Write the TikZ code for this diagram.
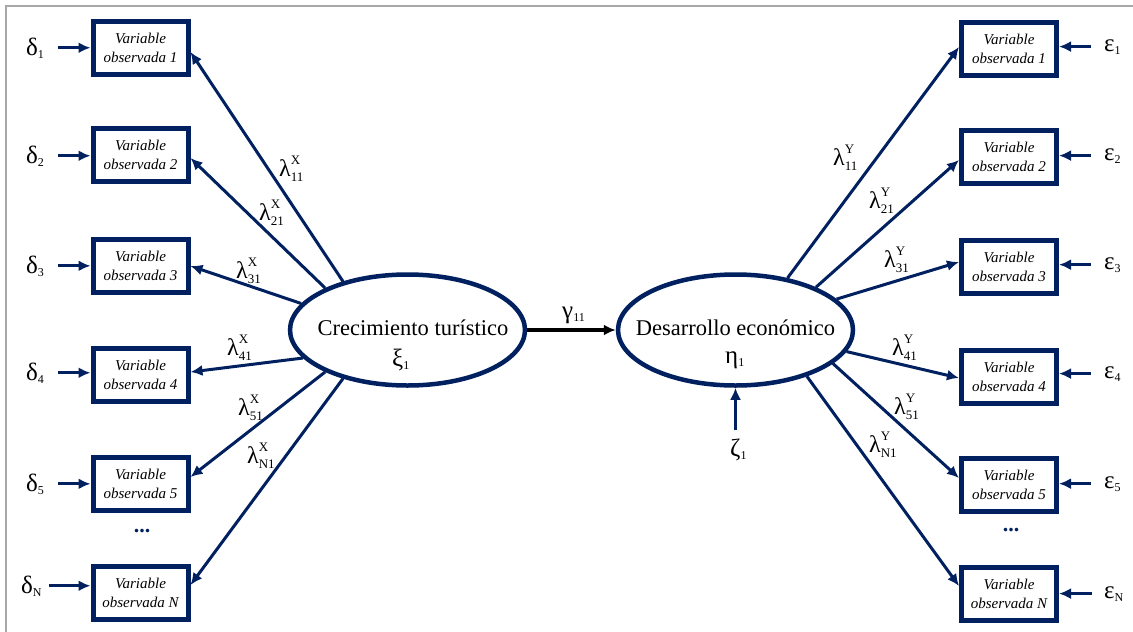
\documentclass[tikz,border=0pt]{standalone}
\usepackage{fontspec}
\setmainfont{Liberation Serif}
\usetikzlibrary{arrows.meta,shapes.geometric}
\definecolor{navy}{RGB}{0,32,96}
\definecolor{framegray}{RGB}{168,168,168}
% Greek symbol with a lowered index
\newcommand\gsub[2]{#1\raisebox{-3pt}{\fontsize{12}{12}\selectfont #2}}
% loading: lambda with stacked superscript and subscript
\newcommand\lamb[2]{λ\makebox[0pt][l]{\raisebox{12pt}{\fontsize{13}{13}\selectfont #1}}\raisebox{-5pt}{\fontsize{13}{13}\selectfont #2}}
\begin{document}
\begin{tikzpicture}[x=1pt,y=-1pt,
  obsbox/.style={draw=navy, line width=5pt, fill=white, minimum width=95pt,
    minimum height=53pt, inner sep=0pt, align=center,
    font=\fontsize{15}{19}\selectfont\itshape},
  latent/.style={ellipse, draw=navy, line width=4.5pt, minimum width=235pt,
    minimum height=111pt, inner sep=0pt},
  link/.style={draw=navy, line width=3pt, -{Latex[length=12pt,width=11pt]}},
  path/.style={draw=black, line width=4pt, -{Latex[length=12pt,width=11pt]}},
  latlab/.style={font=\fontsize{22.5}{22.5}\selectfont, inner sep=0pt, anchor=base},
  greek/.style={font=\fontsize{25}{25}\selectfont, inner sep=0pt, anchor=base west},
  lamlab/.style={font=\fontsize{24}{24}\selectfont, inner sep=0pt, anchor=base west},
  dots/.style={text=navy, font=\fontsize{22}{22}\selectfont\bfseries, inner sep=0pt},
]
\useasboundingbox (0,0) rectangle (1133,632);
% page frame
\draw[framegray, line width=1.5pt] (6,632) -- (6,6) -- (1133,6);

% latent variables
\node[latent] (xi) at (407.5,330) {};
\node[latent] (eta) at (735.5,330) {};
\node[latlab] (xit) at (413,335) {Crecimiento turístico};
\node[greek] (xis) at (392,366) {\gsub{ξ}{1}};
\node[latlab] (etat) at (735.5,335) {Desarrollo económico};
\node[greek] (etas) at (725,363) {\gsub{η}{1}};

% structural path
\draw[path] (xi.east) -- (eta.west);
\node[greek] (gam) at (562,318) {\gsub{γ}{11}};

% disturbance
\node[greek] (zeta) at (730,456) {\gsub{ζ}{1}};
\draw[link] ([yshift=8pt]zeta.north -| eta.south) -- (eta.south);

% indicators of the exogenous construct
\foreach \i/\y/\t in {1/48/1,2/155/2,3/266/3,4/375/4,5/484/5,6/593/N}
  \node[obsbox] (lb\i) at (140.5,\y) {Variable\\observada \t};
% indicators of the endogenous construct
\foreach \i/\y/\t in {1/49/1,2/157/2,3/267/3,4/377/4,5/485/5,6/594/N}
  \node[obsbox] (rb\i) at (1009,\y) {Variable\\observada \t};

\node[dots] (ldots) at (142,531) {...};
\node[dots] (rdots) at (1011,530) {...};

% measurement errors, left
\foreach \i/\x/\y/\t/\g in {1/26/55/1/14,2/26/163/2/14,3/26/273/3/14,4/26/380/4/14,5/26/491/5/14,6/21/593/N/7}{
  \node[greek] (d\i) at (\x,\y) {\gsub{δ}{\t}};
  \draw[link] ([xshift=\g pt]d\i.east) -- (d\i.east -| lb\i.west);
}
% measurement errors, right
\foreach \i/\y/\t/\g in {1/51/1/13,2/160/2/13,3/269/3/13,4/378/4/13,5/488/5/13,6/598/N/12}{
  \node[greek] (e\i) at (1104,\y) {\gsub{ε}{\t}};
  \draw[link] ([xshift=-\g pt]e\i.west) -- (e\i.west -| rb\i.east);
}

% loadings, left
\draw[link] (xi.143) -- ([yshift=-4pt]lb1.east);
\draw[link] (xi.153) -- ([yshift=-3pt]lb2.east);
\draw[link] (xi.166) -- (lb3.east);
\draw[link] (xi.195) -- ([yshift=3pt]lb4.east);
\draw[link] (xi.207) -- ([yshift=7pt]lb5.east);
\draw[link] (xi.217) -- ([yshift=8pt]lb6.east);
\node[lamlab] (lx1) at (279,176) {\lamb{X}{11}};
\node[lamlab] (lx2) at (259,220) {\lamb{X}{21}};
\node[lamlab] (lx3) at (236,278) {\lamb{X}{31}};
\node[lamlab] (lx4) at (227,355) {\lamb{X}{41}};
\node[lamlab] (lx5) at (238,415) {\lamb{X}{51}};
\node[lamlab] (lx6) at (247,463) {\lamb{X}{N1}};

% loadings, right
\draw[link] (eta.45) -- ([yshift=2pt]rb1.west);
\draw[link] (eta.28) -- ([yshift=-3pt]rb2.west);
\draw[link] (eta.17) -- ([yshift=5pt]rb3.west);
\draw[link] (eta.-11) -- ([yshift=-1pt]rb4.west);
\draw[link] (eta.-19) -- ([yshift=7pt]rb5.west);
\draw[link] (eta.-33) -- ([yshift=8pt]rb6.west);
\node[lamlab] (ly1) at (833,165) {\lamb{Y}{11}};
\node[lamlab] (ly2) at (869,208) {\lamb{Y}{21}};
\node[lamlab] (ly3) at (884,267) {\lamb{Y}{31}};
\node[lamlab] (ly4) at (892,355) {\lamb{Y}{41}};
\node[lamlab] (ly5) at (894,414) {\lamb{Y}{51}};
\node[lamlab] (ly6) at (869,452) {\lamb{Y}{N1}};
\end{tikzpicture}
\end{document}
